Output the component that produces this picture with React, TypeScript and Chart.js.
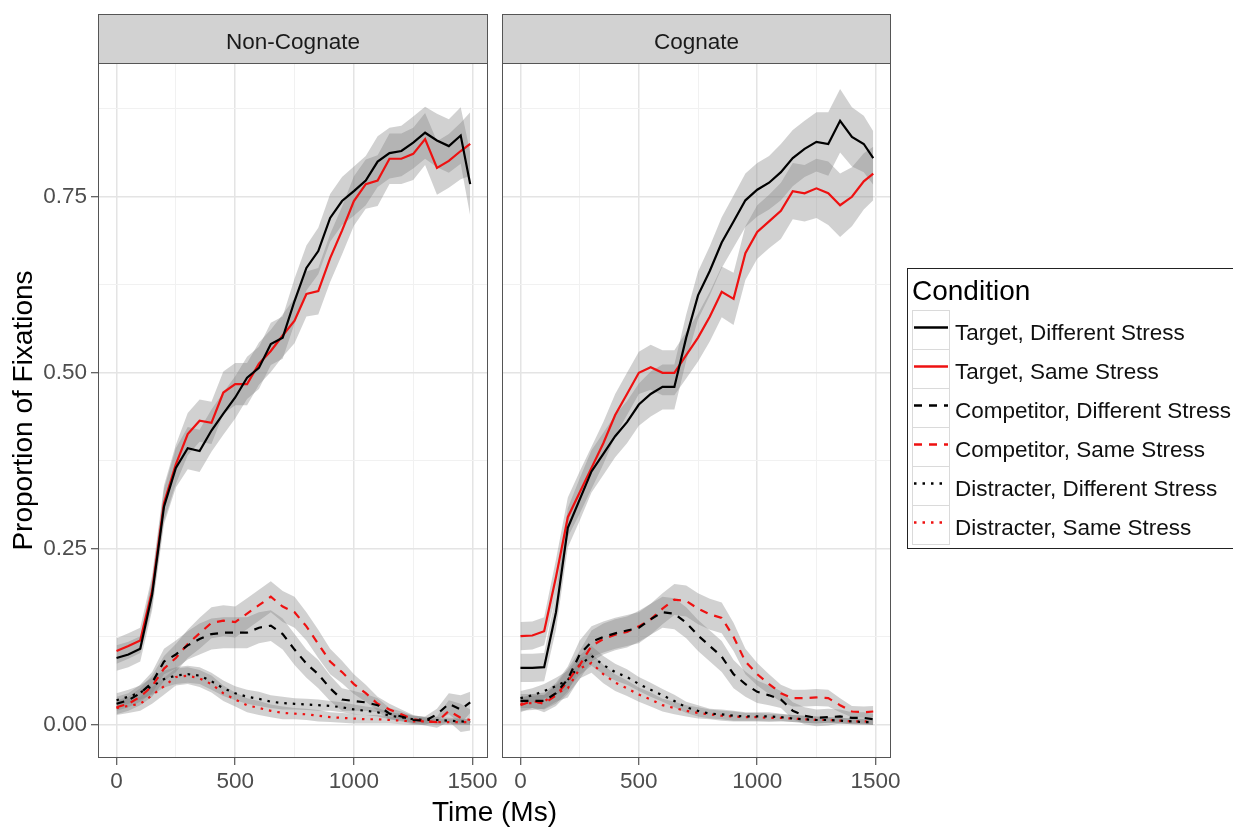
import React, { useEffect, useRef } from "react";
import { Chart, registerables } from "chart.js";

Chart.register(...registerables);

// ---------------- data ----------------
const times = [0, 50, 100, 150, 200, 250, 300, 350, 400, 450, 500, 550, 600, 650, 700, 750, 800, 850, 900, 950, 1000, 1050, 1100, 1150, 1200, 1250, 1300, 1350, 1400, 1450, 1490];

const panels = ["Non-Cognate", "Cognate"];
const conditions = [
  "Target, Different Stress",
  "Target, Same Stress",
  "Competitor, Different Stress",
  "Competitor, Same Stress",
  "Distracter, Different Stress",
  "Distracter, Same Stress",
];

// Non-Cognate
const ncTargetDiff = [0.095, 0.100, 0.108, 0.185, 0.310, 0.365, 0.393, 0.389, 0.418, 0.442, 0.465, 0.493, 0.507, 0.541, 0.550, 0.602, 0.649, 0.673, 0.720, 0.744, 0.758, 0.773, 0.800, 0.812, 0.815, 0.827, 0.841, 0.830, 0.822, 0.837, 0.768];
const ncTargetSame = [0.105, 0.112, 0.120, 0.190, 0.315, 0.370, 0.413, 0.432, 0.429, 0.472, 0.484, 0.484, 0.513, 0.531, 0.553, 0.574, 0.612, 0.616, 0.663, 0.702, 0.744, 0.768, 0.773, 0.804, 0.804, 0.811, 0.832, 0.791, 0.801, 0.815, 0.825];
const ncCompDiff = [0.030, 0.035, 0.045, 0.060, 0.090, 0.100, 0.113, 0.122, 0.129, 0.131, 0.131, 0.131, 0.138, 0.141, 0.129, 0.107, 0.087, 0.072, 0.052, 0.036, 0.034, 0.032, 0.028, 0.016, 0.012, 0.007, 0.006, 0.015, 0.030, 0.022, 0.032];
const ncCompSame = [0.025, 0.030, 0.040, 0.055, 0.080, 0.095, 0.115, 0.130, 0.145, 0.148, 0.146, 0.158, 0.170, 0.182, 0.168, 0.160, 0.140, 0.115, 0.090, 0.075, 0.058, 0.045, 0.030, 0.022, 0.015, 0.008, 0.005, 0.004, 0.020, 0.010, 0.007];
const ncDistDiff = [0.035, 0.040, 0.046, 0.055, 0.065, 0.070, 0.072, 0.070, 0.062, 0.052, 0.045, 0.040, 0.037, 0.033, 0.031, 0.030, 0.029, 0.028, 0.027, 0.025, 0.022, 0.020, 0.018, 0.013, 0.011, 0.008, 0.007, 0.007, 0.006, 0.005, 0.004];
const ncDistSame = [0.024, 0.027, 0.030, 0.042, 0.055, 0.068, 0.070, 0.066, 0.058, 0.045, 0.036, 0.028, 0.024, 0.020, 0.017, 0.016, 0.015, 0.013, 0.011, 0.010, 0.009, 0.008, 0.008, 0.007, 0.006, 0.005, 0.005, 0.004, 0.004, 0.004, 0.004];

// Cognate
const cogTargetDiff = [0.081, 0.081, 0.082, 0.160, 0.280, 0.320, 0.360, 0.385, 0.410, 0.430, 0.455, 0.470, 0.480, 0.480, 0.550, 0.610, 0.645, 0.685, 0.715, 0.745, 0.760, 0.770, 0.785, 0.805, 0.818, 0.828, 0.825, 0.858, 0.835, 0.825, 0.805];
const cogTargetSame = [0.126, 0.127, 0.133, 0.210, 0.295, 0.330, 0.365, 0.400, 0.440, 0.470, 0.500, 0.508, 0.500, 0.500, 0.525, 0.550, 0.580, 0.615, 0.605, 0.670, 0.700, 0.715, 0.730, 0.758, 0.755, 0.762, 0.755, 0.738, 0.750, 0.772, 0.783];
const cogCompDiff = [0.034, 0.034, 0.034, 0.045, 0.065, 0.100, 0.118, 0.125, 0.130, 0.134, 0.138, 0.150, 0.160, 0.158, 0.145, 0.127, 0.112, 0.097, 0.072, 0.058, 0.047, 0.042, 0.036, 0.020, 0.013, 0.010, 0.011, 0.012, 0.010, 0.010, 0.008];
const cogCompSame = [0.028, 0.034, 0.030, 0.042, 0.062, 0.085, 0.112, 0.122, 0.128, 0.132, 0.140, 0.150, 0.165, 0.178, 0.176, 0.165, 0.157, 0.152, 0.125, 0.090, 0.072, 0.058, 0.045, 0.038, 0.038, 0.039, 0.038, 0.028, 0.019, 0.018, 0.019];
const cogDistDiff = [0.038, 0.042, 0.048, 0.055, 0.064, 0.085, 0.098, 0.085, 0.075, 0.068, 0.058, 0.050, 0.042, 0.034, 0.025, 0.020, 0.016, 0.015, 0.013, 0.012, 0.012, 0.012, 0.011, 0.009, 0.008, 0.007, 0.007, 0.006, 0.005, 0.004, 0.004];
const cogDistSame = [0.030, 0.031, 0.033, 0.045, 0.052, 0.080, 0.088, 0.072, 0.060, 0.052, 0.043, 0.036, 0.028, 0.024, 0.020, 0.017, 0.015, 0.013, 0.012, 0.011, 0.011, 0.010, 0.010, 0.009, 0.008, 0.007, 0.007, 0.006, 0.005, 0.005, 0.004];

// standard errors (ribbon half widths)
const ncTargetSE = [0.018, 0.018, 0.018, 0.022, 0.025, 0.028, 0.030, 0.030, 0.030, 0.030, 0.030, 0.030, 0.030, 0.030, 0.030, 0.032, 0.032, 0.033, 0.034, 0.034, 0.035, 0.035, 0.036, 0.036, 0.036, 0.037, 0.037, 0.038, 0.038, 0.040, 0.045];
const ncCompSE = [0.010, 0.010, 0.012, 0.015, 0.018, 0.020, 0.020, 0.022, 0.022, 0.022, 0.022, 0.022, 0.022, 0.022, 0.022, 0.022, 0.020, 0.020, 0.018, 0.016, 0.014, 0.012, 0.010, 0.008, 0.007, 0.006, 0.006, 0.008, 0.015, 0.020, 0.015];
const ncDistSE = [0.010, 0.010, 0.010, 0.012, 0.012, 0.012, 0.012, 0.012, 0.012, 0.011, 0.010, 0.010, 0.010, 0.009, 0.009, 0.008, 0.008, 0.008, 0.007, 0.007, 0.007, 0.006, 0.006, 0.005, 0.005, 0.005, 0.004, 0.004, 0.004, 0.004, 0.004];
const cogTargetSE = [0.020, 0.020, 0.020, 0.025, 0.028, 0.030, 0.030, 0.030, 0.030, 0.030, 0.030, 0.032, 0.032, 0.032, 0.033, 0.034, 0.035, 0.036, 0.037, 0.038, 0.038, 0.038, 0.040, 0.040, 0.040, 0.042, 0.045, 0.045, 0.042, 0.040, 0.038];
const cogCompSE = [0.010, 0.010, 0.012, 0.015, 0.018, 0.020, 0.022, 0.022, 0.022, 0.022, 0.022, 0.022, 0.022, 0.022, 0.022, 0.022, 0.022, 0.022, 0.020, 0.018, 0.016, 0.014, 0.012, 0.012, 0.012, 0.012, 0.012, 0.010, 0.008, 0.008, 0.008];
const cogDistSE = [0.010, 0.010, 0.010, 0.012, 0.013, 0.014, 0.014, 0.013, 0.012, 0.011, 0.010, 0.010, 0.009, 0.009, 0.008, 0.008, 0.007, 0.007, 0.007, 0.006, 0.006, 0.006, 0.005, 0.005, 0.005, 0.005, 0.004, 0.004, 0.004, 0.004, 0.004];

// ticks
const xMajorTicks = [0, 500, 1000, 1500];
const xMinorTicks = [250, 750, 1250];
const yMajorTicks = [0, 0.25, 0.5, 0.75];
const yMinorTicks = [0.125, 0.375, 0.625, 0.875];

// ---------------- styles ----------------
const FONT = '"Liberation Sans", Arial, Helvetica, sans-serif';
const BLACK = "#000000";
const RED = "#EE1111";
const RIBBON = "rgba(128,128,128,0.36)";
const BORDER = "#555555";
const STRIP_FILL = "#D2D2D2";
const GRID_MAJOR = "#E4E4E4";
const GRID_MINOR = "#F1F1F1";
const SOLID: number[] = [];
const DASHED = [8, 7];
const DOTTED = [2.5, 6];

const styleOf = [
  { color: BLACK, dash: SOLID },
  { color: RED, dash: SOLID },
  { color: BLACK, dash: DASHED },
  { color: RED, dash: DASHED },
  { color: BLACK, dash: DOTTED },
  { color: RED, dash: DOTTED },
];

const panelSeries = [
  {
    values: [ncTargetDiff, ncTargetSame, ncCompDiff, ncCompSame, ncDistDiff, ncDistSame],
    se: [ncTargetSE, ncTargetSE, ncCompSE, ncCompSE, ncDistSE, ncDistSE],
  },
  {
    values: [cogTargetDiff, cogTargetSame, cogCompDiff, cogCompSame, cogDistDiff, cogDistSame],
    se: [cogTargetSE, cogTargetSE, cogCompSE, cogCompSE, cogDistSE, cogDistSE],
  },
];

const W = 1233;
const H = 831;
const STRIP_TOP = 14;
const PANEL_TOP = 63;
const PANEL_BOTTOM = 758;
const PANEL_A = { left: 98, right: 488 };
const PANEL_B = { left: 502, right: 891 };

const isIn = (arr: number[], v: number) => arr.some((a) => Math.abs(a - v) < 1e-9);

function buildDatasets(p: number) {
  const ds: any[] = [];
  const { values, se } = panelSeries[p];
  values.forEach((vals, k) => {
    ds.push({
      label: conditions[k] + " lower",
      data: vals.map((v, i) => ({ x: times[i], y: v - se[k][i] })),
      borderWidth: 0,
      borderColor: "rgba(0,0,0,0)",
      pointRadius: 0,
      fill: false,
      order: 2,
    });
    ds.push({
      label: conditions[k] + " upper",
      data: vals.map((v, i) => ({ x: times[i], y: v + se[k][i] })),
      borderWidth: 0,
      borderColor: "rgba(0,0,0,0)",
      backgroundColor: RIBBON,
      pointRadius: 0,
      fill: "-1",
      order: 2,
    });
  });
  values.forEach((vals, k) => {
    ds.push({
      label: conditions[k],
      data: vals.map((v, i) => ({ x: times[i], y: v })),
      borderColor: styleOf[k].color,
      borderWidth: 2.2,
      borderDash: styleOf[k].dash,
      borderCapStyle: "butt",
      pointRadius: 0,
      fill: false,
      tension: 0,
      order: 1,
    });
  });
  return ds;
}

const decoPlugin = {
  id: "panelDeco",
  afterDraw(chart: any, _args: any, opts: any) {
    const { ctx, chartArea: a } = chart;
    ctx.save();
    // strip
    ctx.fillStyle = STRIP_FILL;
    ctx.fillRect(a.left, STRIP_TOP, a.right - a.left, a.top - STRIP_TOP);
    ctx.strokeStyle = BORDER;
    ctx.lineWidth = 1;
    ctx.strokeRect(a.left + 0.5, STRIP_TOP + 0.5, a.right - a.left - 1, a.top - STRIP_TOP);
    ctx.fillStyle = "#1A1A1A";
    ctx.font = `22.5px ${FONT}`;
    ctx.textAlign = "center";
    ctx.textBaseline = "alphabetic";
    ctx.fillText(opts.strip, (a.left + a.right) / 2, 49);
    // panel border
    ctx.strokeRect(a.left + 0.5, a.top + 0.5, a.right - a.left - 1, a.bottom - a.top - 1);

    if (opts.main) {
      // axis titles
      ctx.fillStyle = "#000";
      ctx.font = `28px ${FONT}`;
      ctx.textAlign = "center";
      ctx.fillText("Time (Ms)", (PANEL_A.left + PANEL_B.right) / 2, 821);
      ctx.save();
      ctx.translate(32, (PANEL_TOP + PANEL_BOTTOM) / 2);
      ctx.rotate(-Math.PI / 2);
      ctx.fillText("Proportion of Fixations", 0, 0);
      ctx.restore();

      // legend
      const lx = 907;
      const ly = 268;
      ctx.strokeStyle = "#222";
      ctx.lineWidth = 1;
      ctx.strokeRect(lx + 0.5, ly + 0.5, 340, 280);
      ctx.textAlign = "left";
      ctx.font = `28px ${FONT}`;
      ctx.fillStyle = "#000";
      ctx.fillText("Condition", 912, 300);
      const rowTop = 310;
      const rowH = 39;
      conditions.forEach((c, k) => {
        const top = rowTop + k * rowH;
        ctx.fillStyle = "#FFFFFF";
        ctx.fillRect(912, top, 38, rowH);
        ctx.strokeStyle = "#DADADA";
        ctx.lineWidth = 1;
        ctx.setLineDash([]);
        ctx.strokeRect(912.5, top + 0.5, 37, rowH);
        ctx.strokeStyle = styleOf[k].color;
        ctx.lineWidth = 2.4;
        ctx.setLineDash(styleOf[k].dash);
        ctx.beginPath();
        ctx.moveTo(914, top + 17.5);
        ctx.lineTo(948, top + 17.5);
        ctx.stroke();
        ctx.setLineDash([]);
        ctx.fillStyle = "#111";
        ctx.font = `22.5px ${FONT}`;
        ctx.fillText(c, 955, top + 30);
      });
    }
    ctx.restore();
  },
};

function makeConfig(p: number) {
  const isA = p === 0;
  const panel = isA ? PANEL_A : PANEL_B;
  const gridColor = (ctx: any, major: number[]) =>
    ctx.tick && isIn(major, ctx.tick.value) ? GRID_MAJOR : GRID_MINOR;
  const gridWidth = (ctx: any, major: number[]) =>
    ctx.tick && isIn(major, ctx.tick.value) ? 1.5 : 1;
  const tickColor = (ctx: any, major: number[]) =>
    ctx.tick && isIn(major, ctx.tick.value) ? "#333333" : "rgba(0,0,0,0)";
  return {
    type: "line",
    data: { datasets: buildDatasets(p) },
    plugins: [decoPlugin],
    options: {
      animation: false,
      responsive: false,
      events: [],
      layout: {
        padding: {
          left: isA ? 0 : panel.left - 8,
          right: W - panel.right,
          top: PANEL_TOP,
          bottom: 0,
        },
      },
      plugins: {
        legend: { display: false },
        tooltip: { enabled: false },
        title: { display: false },
        panelDeco: { strip: panels[p], main: isA },
      },
      scales: {
        x: {
          type: "linear",
          min: -78,
          max: 1565,
          afterBuildTicks: (s: any) => {
            s.ticks = [...xMajorTicks, ...xMinorTicks].sort((a, b) => a - b).map((v) => ({ value: v }));
          },
          afterFit: (s: any) => {
            s.height = H - PANEL_BOTTOM;
          },
          border: { display: false },
          grid: {
            color: (c: any) => gridColor(c, xMajorTicks),
            lineWidth: (c: any) => gridWidth(c, xMajorTicks),
            tickColor: (c: any) => tickColor(c, xMajorTicks),
            tickLength: 7,
            tickWidth: 1,
            drawTicks: true,
          },
          ticks: {
            autoSkip: false,
            maxRotation: 0,
            padding: 3,
            color: "#4D4D4D",
            font: { family: FONT, size: 22.5 },
            callback: (v: number) => (isIn(xMajorTicks, v) ? String(v) : ""),
          },
        },
        y: {
          type: "linear",
          min: -0.047,
          max: 0.94,
          afterBuildTicks: (s: any) => {
            s.ticks = [...yMajorTicks, ...yMinorTicks].sort((a, b) => a - b).map((v) => ({ value: v }));
          },
          afterFit: (s: any) => {
            s.width = isA ? PANEL_A.left : 8;
          },
          border: { display: false },
          grid: {
            color: (c: any) => gridColor(c, yMajorTicks),
            lineWidth: (c: any) => gridWidth(c, yMajorTicks),
            tickColor: (c: any) => (isA ? tickColor(c, yMajorTicks) : "rgba(0,0,0,0)"),
            tickLength: 7,
            tickWidth: 1,
            drawTicks: isA,
          },
          ticks: {
            display: isA,
            autoSkip: false,
            padding: 4,
            color: "#4D4D4D",
            font: { family: FONT, size: 22.5 },
            callback: (v: number) => (isIn(yMajorTicks, v) ? v.toFixed(2) : ""),
          },
        },
      },
    },
  };
}

export default function App() {
  const refA = useRef<HTMLCanvasElement>(null);
  const refB = useRef<HTMLCanvasElement>(null);

  useEffect(() => {
    const charts: Chart[] = [];
    if (refA.current) charts.push(new Chart(refA.current, makeConfig(0) as any));
    if (refB.current) charts.push(new Chart(refB.current, makeConfig(1) as any));
    return () => charts.forEach((c) => c.destroy());
  }, []);

  const canvasStyle: React.CSSProperties = { position: "absolute", left: 0, top: 0, width: W, height: H };
  return (
    <div style={{ position: "absolute", left: 0, top: 0, width: W, height: H, background: "#FFFFFF" }}>
      <canvas ref={refA} width={W} height={H} style={canvasStyle} />
      <canvas ref={refB} width={W} height={H} style={canvasStyle} />
    </div>
  );
}
